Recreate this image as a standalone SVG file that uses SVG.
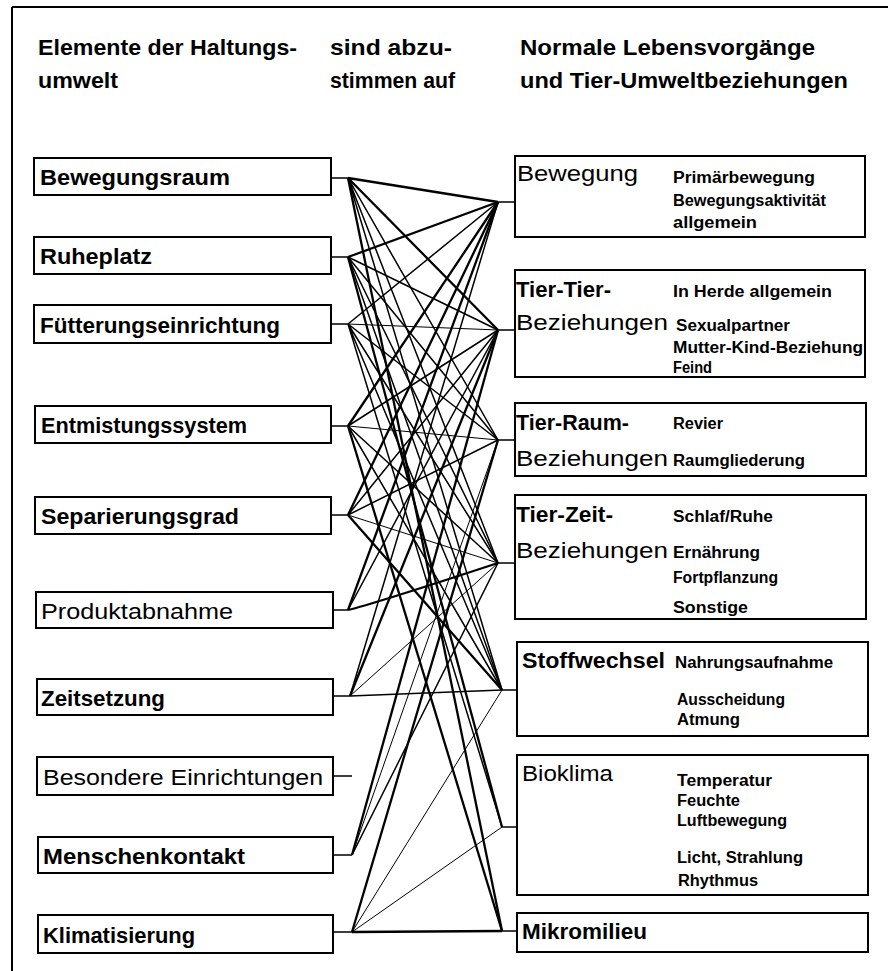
<svg xmlns="http://www.w3.org/2000/svg" width="888" height="971" viewBox="0 0 888 971">
<style>
.box{fill:#fff;stroke:#000;stroke-width:2}
.t{font-family:"Liberation Sans",Arial,sans-serif;font-size:22px;font-weight:bold;fill:#000}
.r{font-weight:normal}
.s{font-size:16px;font-weight:bold}
.ln{stroke:#000;stroke-width:1.5;fill:none}
.th{stroke-width:2.3}
.tn{stroke-width:1}
.frame{stroke:#000;stroke-width:2;fill:none}
</style>
<rect width="888" height="971" fill="#fff"/>
<path class="frame" d="M12,7 H888 M12,7 V971"/>
<g id="header">
<text class="t" x="38" y="55" textLength="259" lengthAdjust="spacingAndGlyphs">Elemente der Haltungs-</text>
<text class="t" x="38" y="88" textLength="80" lengthAdjust="spacingAndGlyphs">umwelt</text>
<text class="t" x="330" y="55" textLength="122" lengthAdjust="spacingAndGlyphs">sind abzu-</text>
<text class="t" x="330" y="88" textLength="125" lengthAdjust="spacingAndGlyphs">stimmen auf</text>
<text class="t" x="520" y="55" textLength="295" lengthAdjust="spacingAndGlyphs">Normale Lebensvorgänge</text>
<text class="t" x="520" y="88" textLength="328" lengthAdjust="spacingAndGlyphs">und Tier-Umweltbeziehungen</text>
</g>
<g id="connectors">
<path class="ln" d="M331,178H348 M331,257H348 M331,324H348 M331,426H348 M331,515H348 M333,610H348 M333,696H350 M333,776H352 M333,855H352 M333,932H352"/>
<path class="ln" d="M498,202H515 M498,330H515 M498,440H515 M498,563H515 M502,690H517 M502,827H517 M502,931H517"/>
<path class="ln th" d="M348,178L498,202 M348,178L498,330 M348,178L502,931"/>
<path class="ln" d="M348,178L498,440 M348,178L498,563 M348,178L502,690"/>
<path class="ln th" d="M348,257L498,202 M348,257L502,827"/>
<path class="ln" d="M348,257L498,330 M348,257L498,440 M348,257L498,563 M348,257L502,690"/>
<path class="ln" d="M348,324L498,202 M348,324L498,440 M348,324L498,563 M348,324L502,690 M348,324L502,827"/>
<path class="ln tn" d="M348,324L498,330"/>
<path class="ln th" d="M348,426L498,202 M348,426L502,931"/>
<path class="ln" d="M348,426L498,330 M348,426L498,563 M348,426L502,690"/>
<path class="ln tn" d="M348,426L498,440"/>
<path class="ln th" d="M348,515L498,202 M348,515L502,690"/>
<path class="ln" d="M348,515L498,330 M348,515L498,440"/>
<path class="ln tn" d="M348,515L498,563"/>
<path class="ln th" d="M348,610L498,202 M348,610Q370,605 498,563"/>
<path class="ln" d="M348,610L498,330"/>
<path class="ln th" d="M350,696L498,330"/>
<path class="ln" d="M350,696L498,202 M350,696L502,690"/>
<path class="ln tn" d="M350,696L498,563"/>
<path class="ln th" d="M352,855L498,330"/>
<path class="ln" d="M352,855L498,563"/>
<path class="ln tn" d="M352,855L498,440"/>
<path class="ln th" d="M352,932L498,440 M352,932L502,931"/>
<path class="ln tn" d="M352,932L502,690 M352,932L502,827"/>
</g>
<g id="left-1"><rect class="box" x="34" y="158" width="297" height="37"/><text class="t" x="40" y="185" textLength="190" lengthAdjust="spacingAndGlyphs">Bewegungsraum</text></g>
<g id="left-2"><rect class="box" x="34" y="237" width="297" height="37"/><text class="t" x="40" y="264" textLength="112" lengthAdjust="spacingAndGlyphs">Ruheplatz</text></g>
<g id="left-3"><rect class="box" x="34" y="305" width="297" height="38"/><text class="t" x="40" y="333" textLength="240" lengthAdjust="spacingAndGlyphs">Fütterungseinrichtung</text></g>
<g id="left-4"><rect class="box" x="35" y="406" width="296" height="37"/><text class="t" x="41" y="433" textLength="206" lengthAdjust="spacingAndGlyphs">Entmistungssystem</text></g>
<g id="left-5"><rect class="box" x="35" y="497" width="296" height="37"/><text class="t" x="41" y="524" textLength="198" lengthAdjust="spacingAndGlyphs">Separierungsgrad</text></g>
<g id="left-6"><rect class="box" x="36" y="592" width="297" height="36"/><text class="t r" x="41" y="619" textLength="192" lengthAdjust="spacingAndGlyphs">Produktabnahme</text></g>
<g id="left-7"><rect class="box" x="37" y="679" width="296" height="36"/><text class="t" x="41" y="706" textLength="124" lengthAdjust="spacingAndGlyphs">Zeitsetzung</text></g>
<g id="left-8"><rect class="box" x="37" y="757" width="296" height="38"/><text class="t r" x="43" y="785" textLength="280" lengthAdjust="spacingAndGlyphs">Besondere Einrichtungen</text></g>
<g id="left-9"><rect class="box" x="38" y="837" width="295" height="36"/><text class="t" x="43" y="864" textLength="202" lengthAdjust="spacingAndGlyphs">Menschenkontakt</text></g>
<g id="left-10"><rect class="box" x="38" y="915" width="295" height="38"/><text class="t" x="43" y="943" textLength="152" lengthAdjust="spacingAndGlyphs">Klimatisierung</text></g>
<g id="right-1"><rect class="box" x="515" y="156" width="350" height="81"/>
<text class="t r" x="517" y="181" textLength="121" lengthAdjust="spacingAndGlyphs">Bewegung</text>
<text class="t s" x="673" y="183" textLength="142" lengthAdjust="spacingAndGlyphs">Primärbewegung</text>
<text class="t s" x="673" y="206" textLength="153" lengthAdjust="spacingAndGlyphs">Bewegungsaktivität</text>
<text class="t s" x="673" y="228" textLength="84" lengthAdjust="spacingAndGlyphs">allgemein</text></g>
<g id="right-2"><rect class="box" x="515" y="270" width="350" height="107"/>
<text class="t" x="516" y="297" textLength="95" lengthAdjust="spacingAndGlyphs">Tier-Tier-</text>
<text class="t r" x="516" y="330" textLength="152" lengthAdjust="spacingAndGlyphs">Beziehungen</text>
<text class="t s" x="673" y="297" textLength="159" lengthAdjust="spacingAndGlyphs">In Herde allgemein</text>
<text class="t s" x="676" y="331" textLength="114" lengthAdjust="spacingAndGlyphs">Sexualpartner</text>
<text class="t s" x="673" y="353" textLength="190" lengthAdjust="spacingAndGlyphs">Mutter-Kind-Beziehung</text>
<text class="t s" x="673" y="373" textLength="39" lengthAdjust="spacingAndGlyphs">Feind</text></g>
<g id="right-3"><rect class="box" x="515" y="403" width="351" height="73"/>
<text class="t" x="516" y="430" textLength="113" lengthAdjust="spacingAndGlyphs">Tier-Raum-</text>
<text class="t r" x="516" y="466" textLength="152" lengthAdjust="spacingAndGlyphs">Beziehungen</text>
<text class="t s" x="673" y="429" textLength="50" lengthAdjust="spacingAndGlyphs">Revier</text>
<text class="t s" x="673" y="466" textLength="132" lengthAdjust="spacingAndGlyphs">Raumgliederung</text></g>
<g id="right-4"><rect class="box" x="515" y="495" width="351" height="124"/>
<text class="t" x="516" y="522" textLength="97" lengthAdjust="spacingAndGlyphs">Tier-Zeit-</text>
<text class="t r" x="516" y="558" textLength="152" lengthAdjust="spacingAndGlyphs">Beziehungen</text>
<text class="t s" x="673" y="522" textLength="100" lengthAdjust="spacingAndGlyphs">Schlaf/Ruhe</text>
<text class="t s" x="673" y="558" textLength="87" lengthAdjust="spacingAndGlyphs">Ernährung</text>
<text class="t s" x="673" y="583" textLength="105" lengthAdjust="spacingAndGlyphs">Fortpflanzung</text>
<text class="t s" x="673" y="613" textLength="75" lengthAdjust="spacingAndGlyphs">Sonstige</text></g>
<g id="right-5"><rect class="box" x="517" y="642" width="351" height="94"/>
<text class="t" x="522" y="668" textLength="143" lengthAdjust="spacingAndGlyphs">Stoffwechsel</text>
<text class="t s" x="675" y="668" textLength="158" lengthAdjust="spacingAndGlyphs">Nahrungsaufnahme</text>
<text class="t s" x="677" y="705" textLength="108" lengthAdjust="spacingAndGlyphs">Ausscheidung</text>
<text class="t s" x="677" y="725" textLength="63" lengthAdjust="spacingAndGlyphs">Atmung</text></g>
<g id="right-6"><rect class="box" x="517" y="755" width="351" height="140"/>
<text class="t r" x="522" y="781" textLength="91" lengthAdjust="spacingAndGlyphs">Bioklima</text>
<text class="t s" x="677" y="786" textLength="95" lengthAdjust="spacingAndGlyphs">Temperatur</text>
<text class="t s" x="677" y="806" textLength="63" lengthAdjust="spacingAndGlyphs">Feuchte</text>
<text class="t s" x="677" y="826" textLength="110" lengthAdjust="spacingAndGlyphs">Luftbewegung</text>
<text class="t s" x="677" y="863" textLength="126" lengthAdjust="spacingAndGlyphs">Licht, Strahlung</text>
<text class="t s" x="678" y="886" textLength="80" lengthAdjust="spacingAndGlyphs">Rhythmus</text></g>
<g id="right-7"><rect class="box" x="517" y="913" width="351" height="39"/>
<text class="t" x="522" y="939" textLength="125" lengthAdjust="spacingAndGlyphs">Mikromilieu</text></g>
</svg>
